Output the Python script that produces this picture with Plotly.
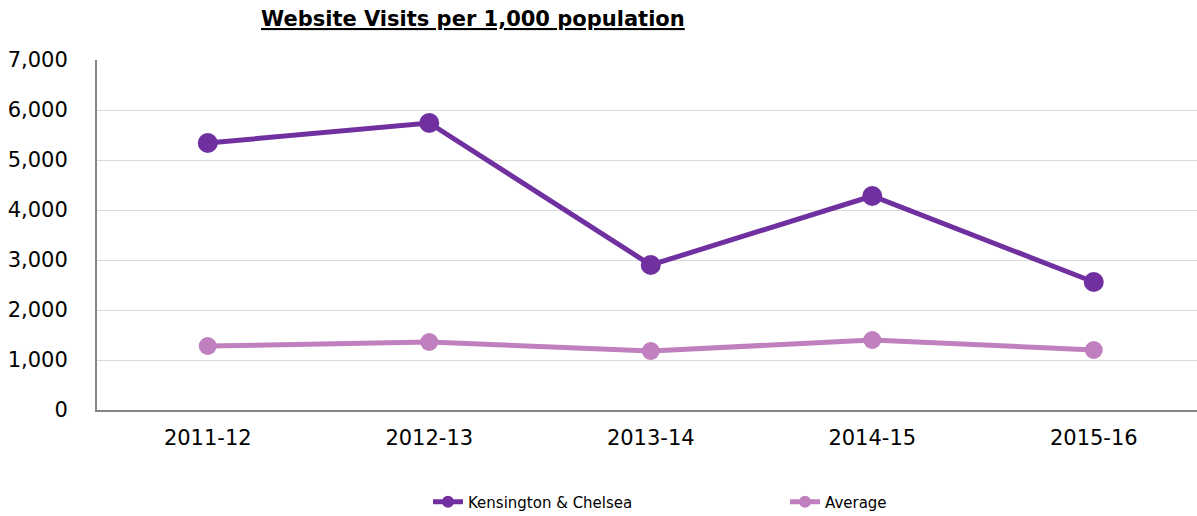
import plotly.graph_objects as go

categories = ["2011-12", "2012-13", "2013-14", "2014-15", "2015-16"]
kensington = [5340, 5740, 2900, 4280, 2560]
average = [1280, 1360, 1180, 1400, 1200]
tick_vals = [0, 1000, 2000, 3000, 4000, 5000, 6000, 7000]
tick_text = ["0", "1,000", "2,000", "3,000", "4,000", "5,000", "6,000", "7,000"]

FONT = "DejaVu Sans, Verdana, sans-serif"

fig = go.Figure()
fig.add_trace(go.Scatter(
    x=list(range(len(categories))), y=kensington, name="Kensington & Chelsea",
    mode="lines+markers", line=dict(color="#7030A0", width=5),
    marker=dict(color="#7030A0", size=20),
))
fig.add_trace(go.Scatter(
    x=list(range(len(categories))), y=average, name="Average",
    mode="lines+markers", line=dict(color="#C07FBF", width=5),
    marker=dict(color="#C07FBF", size=18),
))

fig.update_layout(
    width=1197, height=516,
    margin=dict(l=97, r=0, t=60, b=106),
    paper_bgcolor="white", plot_bgcolor="white",
    font=dict(family=FONT, color="#000000"),
    showlegend=True,
    legend=dict(orientation="h", xref="container", yref="container",
                x=428 / 1197, xanchor="left", y=(516 - 502) / 516, yanchor="middle",
                font=dict(size=15, family=FONT), entrywidth=312, entrywidthmode="pixels",
                traceorder="normal", itemsizing="constant"),
    annotations=[dict(text="<b><u>Website Visits per 1,000 population</u></b>",
                      xref="paper", yref="paper", x=(473 - 97) / 1100, y=(410 - 19) / 350,
                      xanchor="center", yanchor="middle", showarrow=False,
                      font=dict(size=21, family=FONT, color="#000000"))],
)
fig.update_xaxes(
    range=[-0.5, 4.466], tickvals=list(range(len(categories))), ticktext=categories,
    showgrid=False, showline=True, linecolor="#868686", linewidth=2,
    ticks="", tickfont=dict(size=21, family=FONT), zeroline=False,
    ticklabelstandoff=8,
)
fig.update_yaxes(
    range=[0, 7000], tickvals=tick_vals, ticktext=tick_text,
    showgrid=True, gridcolor="#D9D9D9", gridwidth=1,
    showline=True, linecolor="#868686", linewidth=2,
    ticks="", tickfont=dict(size=21, family=FONT), zeroline=False,
    ticklabelstandoff=23,
)

fig.write_html(
    "out.html",
    config={"displayModeBar": False},
    post_script="document.body.style.margin='0';document.body.style.overflow='hidden';",
)
